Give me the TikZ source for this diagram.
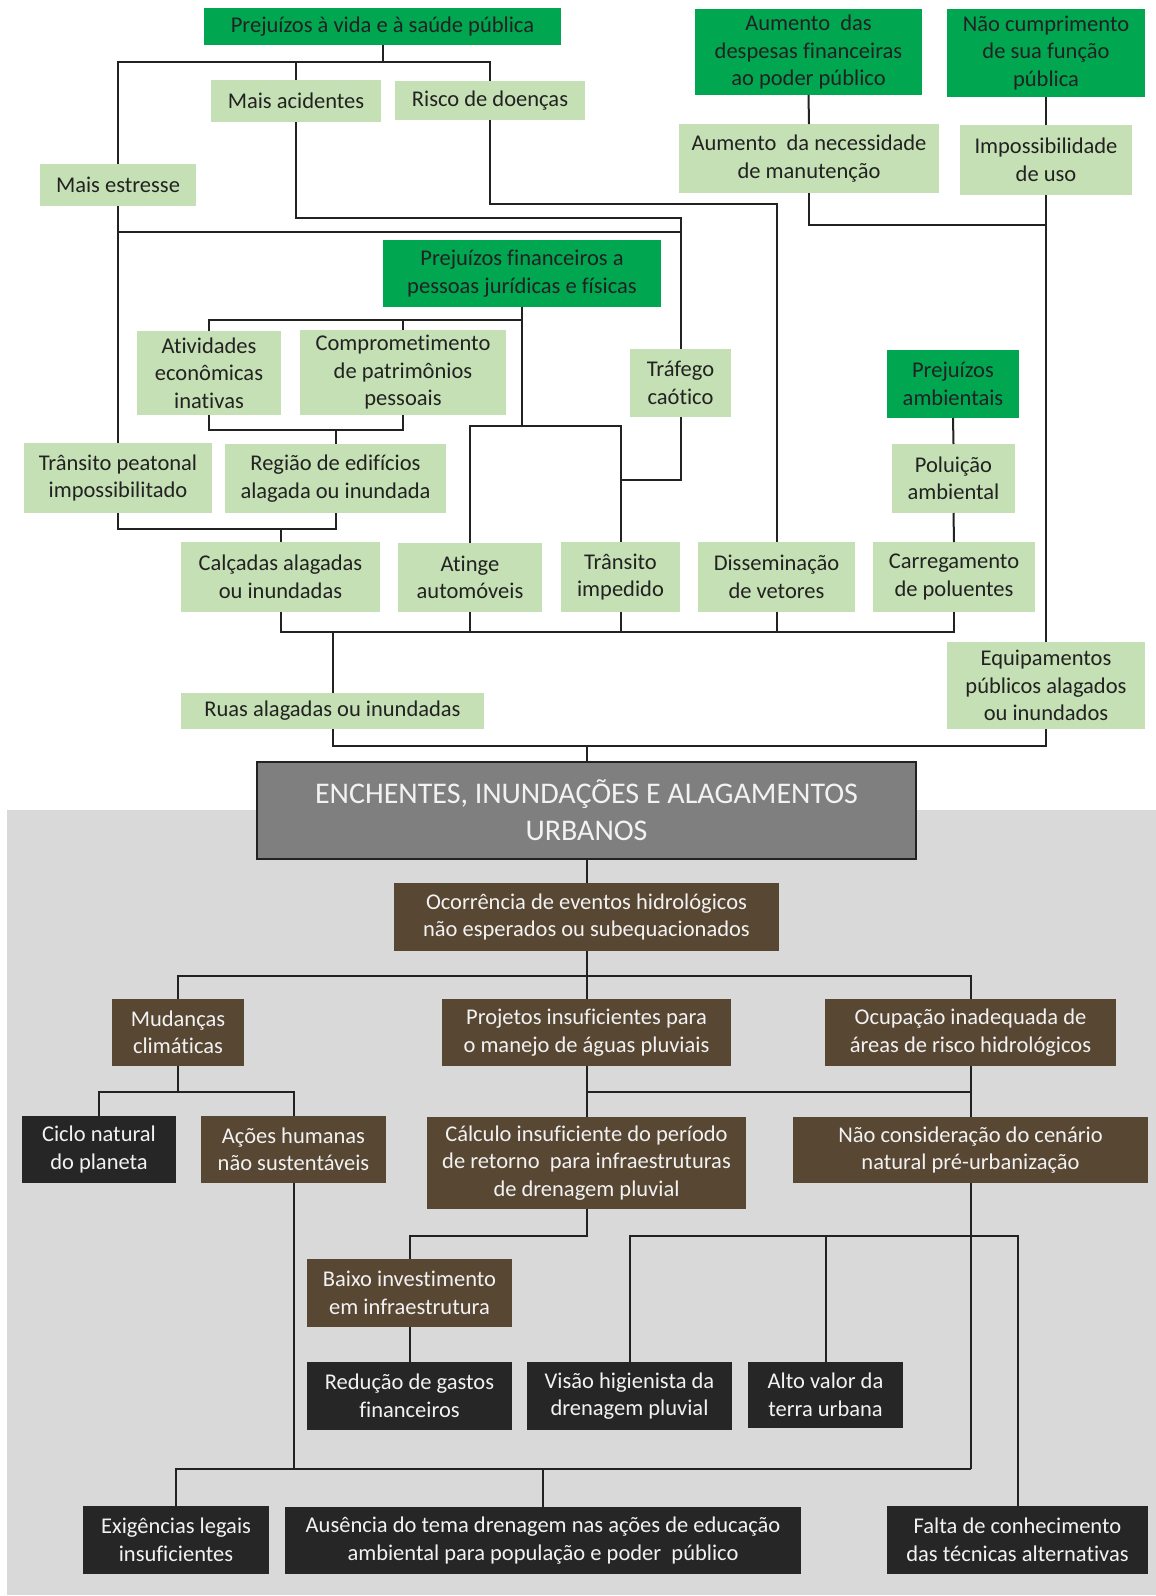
\documentclass[tikz,border=0pt]{standalone}
\usepackage{fontspec}
\setmainfont{Carlito}[Ligatures=NoCommon]
\usetikzlibrary{calc}

\definecolor{dgreen}{RGB}{0,166,80}
\definecolor{lgreen}{RGB}{197,224,180}
\definecolor{brownbox}{RGB}{88,71,51}
\definecolor{darkbox}{RGB}{38,38,38}
\definecolor{panel}{RGB}{217,217,217}
\definecolor{mainbox}{RGB}{127,127,127}
\definecolor{ink}{RGB}{34,34,34}
\definecolor{paper}{RGB}{242,242,242}

% box given by its corners: style, name, x1, y1, x2, y2, text
\newcommand\bx[7]{\node[#1, minimum width={(#5-#3)*1pt}, minimum height={(#6-#4)*1pt}] (#2) at ({(#3+#5)/2},{(#4+#6)/2}) {#7};}

\begin{document}
\begin{tikzpicture}[x=1pt,y=-1pt,
  box/.style={rectangle, inner sep=0pt, outer sep=0pt, align=center, font=\fontsize{22.5}{27.5}\selectfont},
  topg/.style={box, fill=dgreen, text=ink},
  lightg/.style={box, fill=lgreen, text=ink},
  causeb/.style={box, fill=brownbox, text=paper},
  rootd/.style={box, fill=darkbox, text=paper},
  centre/.style={box, fill=mainbox, draw=ink, line width=2pt, text=paper, font=\fontsize{30}{37}\selectfont},
  link/.style={draw=ink, line width=2pt}]

\useasboundingbox (0,0) rectangle (1156,1596);
\fill[white] (0,0) rectangle (1156,1596);
\fill[panel] (7,810) rectangle (1156,1595);

% consequences
\bx{topg}{vida}{204}{8}{561}{45}{Prejuízos à vida e à saúde pública}
\bx{topg}{despesas}{695}{9}{922}{95}{Aumento\ \ das\\despesas financeiras\\ao poder público}
\bx{topg}{naocump}{947}{9}{1145}{97}{Não cumprimento\\de sua função\\pública}
\bx{lightg}{acid}{211}{80}{381}{122}{Mais acidentes}
\bx{lightg}{risco}{395}{81}{585}{120}{Risco de doenças}
\bx{lightg}{estresse}{40}{164}{196}{206}{Mais estresse}
\bx{lightg}{manut}{679}{124}{939}{193}{Aumento\ \ da necessidade\\de manutenção}
\bx{lightg}{imposs}{960}{125}{1132}{195}{Impossibilidade\\de uso}
\bx{topg}{finan}{383}{240}{661}{307}{Prejuízos financeiros a\\pessoas jurídicas e físicas}
\bx{lightg}{ativ}{137}{331}{281}{415}{Atividades\\econômicas\\inativas}
\bx{lightg}{compr}{300}{330}{506}{415}{Comprometimento\\de patrimônios\\pessoais}
\bx{lightg}{trafego}{630}{349}{731}{417}{Tráfego\\caótico}
\bx{topg}{ambient}{887}{350}{1019}{418}{Prejuízos\\ambientais}
\bx{lightg}{peat}{24}{443}{212}{513}{Trânsito peatonal\\impossibilitado}
\bx{lightg}{regiao}{225}{444}{446}{513}{Região de edifícios\\alagada ou inundada}
\bx{lightg}{polui}{892}{444}{1015}{513}{Poluição\\ambiental}
\bx{lightg}{calc}{181}{542}{380}{612}{Calçadas alagadas\\ou inundadas}
\bx{lightg}{atinge}{398}{543}{542}{612}{Atinge\\automóveis}
\bx{lightg}{transimp}{561}{542}{680}{612}{Trânsito\\impedido}
\bx{lightg}{dissem}{698}{542}{855}{612}{Disseminação\\de vetores}
\bx{lightg}{carreg}{873}{542}{1035}{612}{Carregamento\\de poluentes}
\bx{lightg}{equip}{947}{642}{1145}{729}{Equipamentos\\públicos alagados\\ou inundados}
\bx{lightg}{ruas}{181}{693}{484}{729}{Ruas alagadas ou inundadas}

% central problem
\bx{centre}{main}{257}{762}{916}{859}{ENCHENTES, INUNDAÇÕES E ALAGAMENTOS\\URBANOS}

% causes
\bx{causeb}{ocorr}{394}{883}{779}{951}{Ocorrência de eventos hidrológicos\\não esperados ou subequacionados}
\bx{causeb}{mudan}{112}{999}{244}{1066}{Mudanças\\climáticas}
\bx{causeb}{proj}{442}{999}{731}{1066}{Projetos insuficientes para\\o manejo de águas pluviais}
\bx{causeb}{ocup}{825}{999}{1116}{1066}{Ocupação inadequada de\\áreas de risco hidrológicos}
\bx{rootd}{ciclo}{22}{1116}{176}{1183}{Ciclo natural\\do planeta}
\bx{causeb}{acoes}{201}{1116}{386}{1183}{Ações humanas\\não sustentáveis}
\bx{causeb}{calculo}{427}{1117}{746}{1209}{Cálculo insuficiente do período\\de retorno\ \ para infraestruturas\\de drenagem pluvial}
\bx{causeb}{naocons}{793}{1117}{1148}{1183}{Não consideração do cenário\\natural pré-urbanização}
\bx{causeb}{baixo}{307}{1259}{512}{1327}{Baixo investimento\\em infraestrutura}
\bx{rootd}{reduc}{307}{1362}{512}{1430}{Redução de gastos\\financeiros}
\bx{rootd}{visao}{527}{1362}{732}{1430}{Visão higienista da\\drenagem pluvial}
\bx{rootd}{alto}{748}{1362}{903}{1428}{Alto valor da\\terra urbana}
\bx{rootd}{exig}{83}{1506}{269}{1574}{Exigências legais\\insuficientes}
\bx{rootd}{ausen}{285}{1507}{801}{1574}{Ausência do tema drenagem nas ações de educação\\ambiental para população e poder\ \ público}
\bx{rootd}{falta}{887}{1506}{1148}{1574}{Falta de conhecimento\\das técnicas alternativas}

% levels of the connector buses
\coordinate (b1) at (0,62);
\coordinate (b2) at (0,204);
\coordinate (b3) at (0,218);
\coordinate (b5) at (0,225);
\coordinate (b4) at (0,232);
\coordinate (b6) at (0,320);
\coordinate (b7) at (0,426);
\coordinate (b8) at (0,430);
\coordinate (b9) at (0,480);
\coordinate (b10) at (0,529);
\coordinate (b11) at (0,632);
\coordinate (b12) at (0,746);
\coordinate (b13) at (0,976);
\coordinate (b14) at (0,1092);
\coordinate (b15) at (0,1236);
\coordinate (b16) at (0,1469);

% upper tree
\draw[link] (vida.south) -- (vida.south |- b1);
\draw[link] (estresse.north) |- (risco.north |- b1) -- (risco.north);
\draw[link] (acid.north) -- (acid.north |- b1);
\draw[link] (risco.south) |- (dissem.north |- b2) -- (dissem.north);
\draw[link] (acid.south) |- (trafego.north |- b3) -- (trafego.north);
\draw[link] (estresse.south) -- (peat.north);
\draw[link] (estresse.south |- b4) -- (trafego.north |- b4);
\draw[link] (despesas.south) -- (manut.north);
\draw[link] (naocump.south) -- (imposs.north);
\draw[link] (manut.south) |- (imposs.south |- b5);
\draw[link] (imposs.south) -- (equip.north);
\draw[link] (ativ.north) |- (finan.south |- b6) -- (finan.south);
\draw[link] (compr.north) -- (compr.north |- b6);
\draw[link] (finan.south |- b6) -- (finan.south |- b7);
\draw[link] (atinge.north) |- (transimp.north |- b7) -- (transimp.north);
\draw[link] (ativ.south) |- (compr.south |- b8) -- (compr.south);
\draw[link] (regiao.north) -- (regiao.north |- b8);
\draw[link] (trafego.south) |- (transimp.north |- b9);
\draw[link] (peat.south) |- (regiao.south |- b10) -- (regiao.south);
\draw[link] (calc.north) -- (calc.north |- b10);
\draw[link] (ambient.south) -- (polui.north);
\draw[link] (polui.south) -- (carreg.north);
\draw[link] (calc.south) |- (carreg.south |- b11) -- (carreg.south);
\draw[link] (atinge.south) -- (atinge.south |- b11);
\draw[link] (transimp.south) -- (transimp.south |- b11);
\draw[link] (dissem.south) -- (dissem.south |- b11);
\draw[link] (ruas.north) -- (ruas.north |- b11);
\draw[link] (ruas.south) |- (equip.south |- b12) -- (equip.south);
\draw[link] (main.north) -- (main.north |- b12);

% lower tree
\draw[link] (main.south) -- (ocorr.north);
\draw[link] (ocorr.south) -- (proj.north);
\draw[link] (mudan.north) |- (ocup.north |- b13) -- (ocup.north);
\draw[link] (mudan.south) -- (mudan.south |- b14);
\draw[link] (ciclo.north) |- (acoes.north |- b14) -- (acoes.north);
\draw[link] (proj.south) -- (calculo.north);
\draw[link] (ocup.south) -- (naocons.north);
\draw[link] (proj.south |- b14) -- (ocup.south |- b14);
\draw[link] (calculo.south) |- (baixo.north |- b15) -- (baixo.north);
\draw[link] (baixo.south) -- (reduc.north);
\draw[link] (visao.north) |- (falta.north |- b15) -- (falta.north);
\draw[link] (alto.north) -- (alto.north |- b15);
\draw[link] (naocons.south) -- (naocons.south |- b16);
\draw[link] (exig.north) |- (naocons.south |- b16);
\draw[link] (acoes.south) -- (acoes.south |- b16);
\draw[link] (ausen.north) -- (ausen.north |- b16);
\end{tikzpicture}
\end{document}
